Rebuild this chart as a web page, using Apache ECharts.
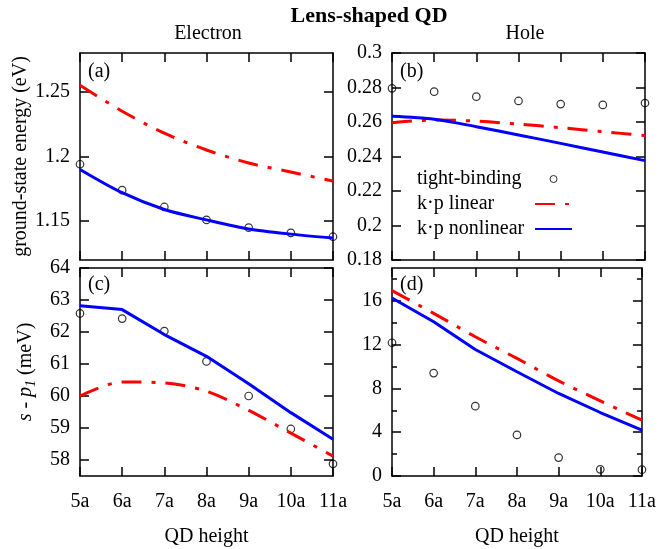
<!DOCTYPE html>
<html>
<head>
<meta charset="utf-8">
<script src="https://cdn.jsdelivr.net/npm/echarts@6/dist/echarts.min.js"></script>
<style>
  html, body { margin: 0; padding: 0; background: #fff; }
  #chart { width: 659px; height: 549px; }
</style>
</head>
<body>
<div id="chart"></div>
<script>
// QD height in units of a
const heights = [5, 6, 7, 8, 9, 10, 11]

// (a) electron ground-state energy (eV)
const elecTB = [1.194, 1.174, 1.161, 1.151, 1.145, 1.141, 1.138]
const elecLinear = [1.255, 1.235, 1.218, 1.205, 1.195, 1.188, 1.181]
const elecNonlinear = [1.190, 1.172, 1.159, 1.151, 1.144, 1.140, 1.137]

// (b) hole ground-state energy (eV)
const holeTB = [0.2795, 0.2776, 0.2747, 0.2722, 0.2704, 0.2699, 0.2710]
const holeLinear = [0.2596, 0.2612, 0.2605, 0.2588, 0.2567, 0.2544, 0.2521]
const holeNonlinear = [0.2633, 0.2616, 0.2573, 0.2525, 0.2476, 0.2426, 0.2376]

// (c) electron s - p1 splitting (meV)
const elecSpTB = [62.58, 62.42, 62.03, 61.08, 60.00, 58.97, 57.88]
const elecSpLinear = [60.00, 60.44, 60.41, 60.15, 59.55, 58.84, 58.12]
const elecSpNonlinear = [62.82, 62.70, 61.92, 61.24, 60.38, 59.48, 58.65]

// (d) hole s - p1 splitting (meV)
const holeSpTB = [12.17, 9.40, 6.38, 3.75, 1.68, 0.61, 0.58]
const holeSpLinear = [16.93, 14.86, 12.72, 10.74, 8.69, 6.86, 5.10]
const holeSpNonlinear = [16.26, 14.09, 11.56, 9.52, 7.54, 5.80, 4.18]

// tick values
const xTicks = [5, 6, 7, 8, 9, 10, 11]
const ticksA = [1.15, 1.2, 1.25]
const ticksB = [0.18, 0.2, 0.22, 0.24, 0.26, 0.28, 0.3]
const ticksC = [58, 59, 60, 61, 62, 63, 64]
const ticksD = [0, 4, 8, 12, 16]
const minorD = [2, 6, 10, 14, 18]

const serif = 'Liberation Serif'
const black = '#000'
const red = '#ff0000'
const blue = '#0000ff'

const grids = [
  { left: 80, top: 53, width: 253, height: 207 },
  { left: 392, top: 53, width: 253, height: 207 },
  { left: 80, top: 268, width: 253, height: 208 },
  { left: 392, top: 268, width: 253, height: 208 }
]

const lineStyle = { color: black, width: 1.5 }
const labelFont = { color: black, fontSize: 20, fontFamily: serif }

const makeX = (g, position, showLabel) => ({
  type: 'value',
  gridIndex: g,
  position,
  min: 5,
  max: 11,
  name: position === 'bottom' && showLabel ? 'QD height' : '',
  nameLocation: 'middle',
  nameGap: 51,
  nameTextStyle: labelFont,
  axisLine: { show: true, onZero: false, lineStyle },
  axisTick: { show: true, inside: true, length: 9, customValues: xTicks, lineStyle },
  axisLabel: { show: showLabel, customValues: xTicks, formatter: (v) => v + 'a', margin: 16, ...labelFont },
  splitLine: { show: false }
})

const makeY = (g, position, min, max, ticks, showLabel, extra) => ({
  type: 'value',
  gridIndex: g,
  position,
  min,
  max,
  axisLine: { show: true, onZero: false, lineStyle },
  axisTick: { show: true, inside: true, length: 9, customValues: ticks, lineStyle },
  axisLabel: { show: showLabel, customValues: ticks, formatter: (v) => String(v), margin: 10, ...labelFont },
  splitLine: { show: false },
  ...extra
})

const pairs = (ys) => heights.map((h, i) => [h, ys[i]])

const panelSeries = (g, tb, linear, nonlinear, smoothBlue) => [
  {
    type: 'line', name: 'k·p linear', xAxisIndex: 2 * g, yAxisIndex: 2 * g,
    data: pairs(linear), symbol: 'none', smooth: 0.3,
    lineStyle: { color: red, width: 3, type: [20, 10, 4, 10] },
    itemStyle: { color: red }
  },
  {
    type: 'line', name: 'k·p nonlinear', xAxisIndex: 2 * g, yAxisIndex: 2 * g,
    data: pairs(nonlinear), symbol: 'none', smooth: smoothBlue ? 0.3 : false,
    lineStyle: { color: blue, width: 3 },
    itemStyle: { color: blue }
  },
  {
    type: 'scatter', name: 'tight-binding', xAxisIndex: 2 * g, yAxisIndex: 2 * g,
    data: pairs(tb), symbol: 'circle', symbolSize: 7.5, clip: false,
    itemStyle: { color: 'rgba(0,0,0,0)', borderColor: black, borderWidth: 1.2 }
  }
]

const text = (x, y, str, style) => ({
  type: 'text', x, y,
  style: { text: str, fill: black, fontSize: 20, fontFamily: serif, align: 'center', verticalAlign: 'middle', ...style }
})

// hide the dot the legend puts on line icons
const noDot = { color: 'rgba(0,0,0,0)', borderColor: 'rgba(0,0,0,0)', borderWidth: 0, opacity: 0 }

const option = {
  animation: false,
  backgroundColor: '#fff',
  grid: grids,
  xAxis: [
    makeX(0, 'bottom', false), makeX(0, 'top', false),
    makeX(1, 'bottom', false), makeX(1, 'top', false),
    makeX(2, 'bottom', true), makeX(2, 'top', false),
    makeX(3, 'bottom', true), makeX(3, 'top', false)
  ],
  yAxis: [
    makeY(0, 'left', 1.12, 1.28, ticksA, true, {
      name: 'ground-state energy (eV)', nameLocation: 'middle', nameGap: 49, nameTextStyle: labelFont
    }),
    makeY(0, 'right', 1.12, 1.28, ticksA, false),
    makeY(1, 'left', 0.18, 0.3, ticksB, true),
    makeY(1, 'right', 0.18, 0.3, ticksB, false),
    makeY(2, 'left', 57.5, 64, ticksC, true, {
      name: '{i|s} - {i|p}{sub|1} (meV)', nameLocation: 'middle', nameGap: 42,
      nameTextStyle: {
        ...labelFont,
        rich: {
          i: { fontStyle: 'italic', fontSize: 20, fontFamily: serif, color: black },
          sub: { fontStyle: 'italic', fontSize: 14, fontFamily: serif, color: black, verticalAlign: 'bottom', padding: [10, 0, 0, 0] }
        }
      }
    }),
    makeY(2, 'right', 57.5, 64, ticksC, false),
    makeY(3, 'left', 0, 19, ticksD, true),
    makeY(3, 'right', 0, 19, ticksD, false),
    makeY(3, 'left', 0, 19, minorD, false, { axisLine: { show: false }, axisTick: { show: true, inside: true, length: 5, customValues: minorD, lineStyle } }),
    makeY(3, 'right', 0, 19, minorD, false, { axisLine: { show: false }, axisTick: { show: true, inside: true, length: 5, customValues: minorD, lineStyle } })
  ],
  legend: {
    data: [
      { name: 'tight-binding', itemStyle: { color: 'rgba(0,0,0,0)', borderColor: black, borderWidth: 1 } },
      { name: 'k·p linear', itemStyle: noDot },
      { name: 'k·p nonlinear', itemStyle: noDot }
    ],
    orient: 'vertical',
    align: 'right',
    left: 417,
    top: 169,
    padding: 0,
    itemGap: 5,
    itemWidth: 37,
    itemHeight: 7,
    selectedMode: false,
    formatter: '{t|{name}}',
    textStyle: {
      ...labelFont,
      rich: { t: { width: 113, align: 'left', fontSize: 20, lineHeight: 20, fontFamily: serif, color: black } }
    }
  },
  graphic: [
    text(369, 16, 'Lens-shaped QD', { fontWeight: 'bold', fontSize: 22 }),
    text(208, 34, 'Electron'),
    text(525, 34, 'Hole'),
    text(88, 72, '(a)', { align: 'left' }),
    text(400, 72, '(b)', { align: 'left' }),
    text(88, 285, '(c)', { align: 'left' }),
    text(400, 285, '(d)', { align: 'left' })
  ],
  series: [
    ...panelSeries(0, elecTB, elecLinear, elecNonlinear, true),
    ...panelSeries(1, holeTB, holeLinear, holeNonlinear, true),
    ...panelSeries(2, elecSpTB, elecSpLinear, elecSpNonlinear, false),
    ...panelSeries(3, holeSpTB, holeSpLinear, holeSpNonlinear, false)
  ]
}

const chart = echarts.init(document.getElementById('chart'), null, { renderer: 'canvas' })
chart.setOption(option)
window.addEventListener('resize', () => chart.resize())
</script>
</body>
</html>
